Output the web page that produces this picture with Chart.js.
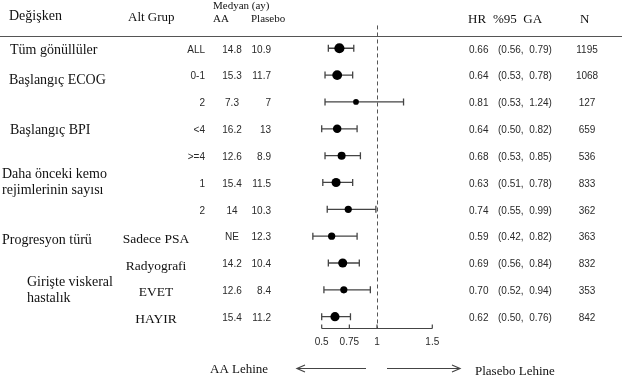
<!DOCTYPE html>
<html><head><meta charset="utf-8">
<script src="https://cdn.jsdelivr.net/npm/chart.js@4"></script>
<style>html,body{margin:0;padding:0;background:#fff}</style>
</head><body>
<canvas id="c" width="622" height="380"></canvas>
<script>
// ---- data ----
const variableNames = ['Tüm gönüllüler', 'Başlangıç ECOG', 'Başlangıç BPI', 'Daha önceki kemo\nrejimlerinin sayısı', 'Progresyon türü', 'Girişte viskeral\nhastalık'];
const variableFirstRow = [0, 1, 3, 5, 7, 9];
const subgroups = ['ALL', '0-1', '2', '<4', '>=4', '1', '2', 'Sadece PSA', 'Radyografi', 'EVET', 'HAYIR'];
const medianAA = ['14.8', '15.3', '7.3', '16.2', '12.6', '15.4', '14', 'NE', '14.2', '12.6', '15.4'];
const medianPlacebo = ['10.9', '11.7', '7', '13', '8.9', '11.5', '10.3', '12.3', '10.4', '8.4', '11.2'];
const hr = [0.66, 0.64, 0.81, 0.64, 0.68, 0.63, 0.74, 0.59, 0.69, 0.70, 0.62];
const ciLow = [0.56, 0.53, 0.53, 0.50, 0.53, 0.51, 0.55, 0.42, 0.56, 0.52, 0.50];
const ciHigh = [0.79, 0.78, 1.24, 0.82, 0.85, 0.78, 0.99, 0.82, 0.84, 0.94, 0.76];
const nPatients = [1195, 1068, 127, 659, 536, 833, 362, 363, 832, 353, 842];
const xTicks = [0.5, 0.75, 1, 1.5];
const xTickLabels = ['0.5', '0.75', '1', '1.5'];

// ---- layout / style ----
const SERIF = '"Liberation Serif","Times New Roman",serif';
const SANS = '"Liberation Sans",Arial,sans-serif';
const varX = [10, 9, 10, 2, 2, 27];
const varDy = [2, 5, 2, 0, 4, 1];

function fmt2(v){ return v.toFixed(2); }
function markerRadius(c){ return 1.8 + 0.095 * Math.sqrt(nPatients[c.dataIndex]); }

const forestPlugin = {
  id: 'forest',
  beforeDatasetsDraw(chart) {
    const { ctx, scales: { x, y } } = chart;
    ctx.save();
    const x1 = Math.round(x.getPixelForValue(1)) + 0.5;
    ctx.strokeStyle = '#555';
    ctx.lineWidth = 1;
    ctx.setLineDash([4, 3]);
    ctx.beginPath();
    ctx.moveTo(x1, y.getPixelForValue(-0.85));
    ctx.lineTo(x1, y.getPixelForValue(10.43));
    ctx.stroke();
    ctx.setLineDash([]);
    ctx.strokeStyle = '#444';
    ctx.lineWidth = 1.3;
    hr.forEach((v, i) => {
      const py = y.getPixelForValue(i);
      const a = x.getPixelForValue(ciLow[i]);
      const b = x.getPixelForValue(ciHigh[i]);
      ctx.beginPath();
      ctx.moveTo(a, py); ctx.lineTo(b, py);
      ctx.moveTo(a, py - 3.5); ctx.lineTo(a, py + 3.5);
      ctx.moveTo(b, py - 3.5); ctx.lineTo(b, py + 3.5);
      ctx.stroke();
    });
    ctx.restore();
  },
  afterDraw(chart) {
    const { ctx, scales: { x, y } } = chart;
    ctx.save();
    ctx.textBaseline = 'middle';

    ctx.fillStyle = '#111';
    ctx.font = '14px ' + SERIF;
    ctx.textAlign = 'left';
    ctx.fillText('Değişken', 9, 16);
    ctx.font = '13px ' + SERIF;
    ctx.fillText('Alt Grup', 128, 18);
    ctx.font = '11px ' + SERIF;
    ctx.fillText('Medyan (ay)', 213, 6);
    ctx.fillText('AA', 213, 19);
    ctx.fillText('Plasebo', 251, 19);
    ctx.font = '13px ' + SERIF;
    ctx.fillText('HR', 468, 20);
    ctx.fillText('%95  GA', 493, 20);
    ctx.fillText('N', 580, 20);

    ctx.strokeStyle = '#555';
    ctx.lineWidth = 1;
    ctx.beginPath();
    ctx.moveTo(0, 36.5); ctx.lineTo(622, 36.5);
    ctx.stroke();

    ctx.fillStyle = '#111';
    ctx.font = '14px ' + SERIF;
    ctx.textAlign = 'left';
    variableNames.forEach((name, k) => {
      const lines = name.split('\n');
      const py = y.getPixelForValue(variableFirstRow[k]) + varDy[k];
      lines.forEach((ln, j) => {
        const off = (j - (lines.length - 1) / 2) * 16;
        ctx.fillText(ln, varX[k], py + off);
      });
    });

    subgroups.forEach((s, i) => {
      const py = y.getPixelForValue(i);
      if (/[a-zA-Z]{2,}/.test(s) && s !== 'ALL') {
        ctx.font = '13.5px ' + SERIF;
        ctx.fillStyle = '#111';
        ctx.textAlign = 'center';
        ctx.fillText(s, 156, py + 3);
      } else {
        ctx.font = '10px ' + SANS;
        ctx.fillStyle = '#2a2a2a';
        ctx.textAlign = 'right';
        ctx.fillText(s, 205, py + 1.5);
      }
    });

    ctx.font = '10px ' + SANS;
    ctx.fillStyle = '#2a2a2a';
    hr.forEach((v, i) => {
      const py = y.getPixelForValue(i) + 1.5;
      ctx.textAlign = 'center';
      ctx.fillText(medianAA[i], 232, py);
      ctx.textAlign = 'right';
      ctx.fillText(medianPlacebo[i], 271, py);
      ctx.textAlign = 'left';
      ctx.fillText(fmt2(v), 469, py);
      ctx.fillText('(' + fmt2(ciLow[i]) + ',  ' + fmt2(ciHigh[i]) + ')', 498, py);
      ctx.textAlign = 'center';
      ctx.fillText(String(nPatients[i]), 587, py);
    });

    const ay = Math.round(y.getPixelForValue(10.43)) + 0.5;
    ctx.strokeStyle = '#444';
    ctx.lineWidth = 1.2;
    ctx.beginPath();
    ctx.moveTo(x.getPixelForValue(xTicks[0]), ay);
    ctx.lineTo(x.getPixelForValue(xTicks[xTicks.length - 1]), ay);
    xTicks.forEach(t => {
      const px = x.getPixelForValue(t);
      ctx.moveTo(px, ay); ctx.lineTo(px, ay - 4);
    });
    ctx.stroke();
    ctx.fillStyle = '#2a2a2a';
    ctx.font = '10px ' + SANS;
    ctx.textAlign = 'center';
    xTicks.forEach((t, k) => ctx.fillText(xTickLabels[k], x.getPixelForValue(t), ay + 14));

    ctx.strokeStyle = '#444';
    ctx.lineWidth = 1.2;
    ctx.beginPath();
    ctx.moveTo(366, 368.5); ctx.lineTo(297, 368.5);
    ctx.moveTo(305, 365); ctx.lineTo(297, 368.5); ctx.lineTo(305, 372);
    ctx.moveTo(387, 368.5); ctx.lineTo(460, 368.5);
    ctx.moveTo(452, 365); ctx.lineTo(460, 368.5); ctx.lineTo(452, 372);
    ctx.stroke();
    ctx.fillStyle = '#111';
    ctx.font = '13px ' + SERIF;
    ctx.textAlign = 'left';
    ctx.fillText('AA Lehine', 210, 370);
    ctx.fillText('Plasebo Lehine', 475, 372);

    ctx.restore();
  }
};

new Chart(document.getElementById('c'), {
  type: 'scatter',
  data: {
    datasets: [{
      data: hr.map((v, i) => ({ x: v, y: i })),
      backgroundColor: '#000',
      borderWidth: 0,
      pointRadius: markerRadius,
      pointHoverRadius: markerRadius
    }]
  },
  options: {
    responsive: false,
    animation: false,
    events: [],
    layout: { padding: { left: 321.7, right: 189.7, top: 26.8, bottom: 51.8 } },
    plugins: { legend: { display: false }, tooltip: { enabled: false } },
    scales: {
      x: { type: 'linear', min: 0.5, max: 1.5, display: false },
      y: { type: 'linear', min: -0.8, max: 10.43, reverse: true, display: false }
    }
  },
  plugins: [forestPlugin]
});
</script>
</body></html>
